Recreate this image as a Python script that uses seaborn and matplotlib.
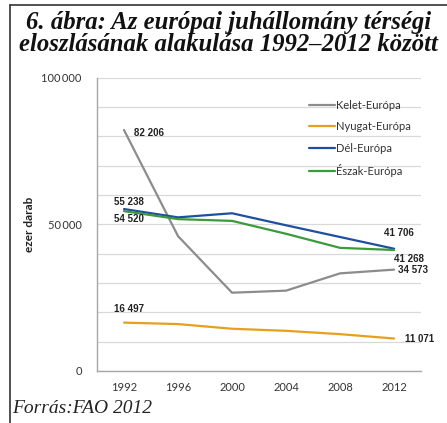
import pandas as pd
import matplotlib.pyplot as plt
import seaborn as sns
from matplotlib.lines import Line2D
from matplotlib.ticker import FuncFormatter

# --- Adatok (ezer darab) ---
years = [1992, 1996, 2000, 2004, 2008, 2012]
kelet = [82206, 46000, 26700, 27400, 33300, 34573]
nyugat = [16497, 16000, 14400, 13700, 12560, 11071]
del_eu = [55238, 52400, 53800, 49700, 45700, 41706]
eszak = [54520, 51800, 51200, 46800, 42000, 41268]

regions = ["Kelet-Európa", "Nyugat-Európa", "Dél-Európa", "Észak-Európa"]
colors = ["#8c8c8c", "#e5a11c", "#1f4fa0", "#3b9a3b"]

frames = []
for name, vals in zip(regions, [kelet, nyugat, del_eu, eszak]):
    frames.append(pd.DataFrame({"year": years, "value": vals, "region": name}))
data = pd.concat(frames, ignore_index=True)

sns.set_theme(style="white")
plt.rcParams['font.family'] = ['Lato', 'DejaVu Sans']

fig = plt.figure(figsize=(4.47, 4.23), dpi=100)
ax = fig.add_axes([0.217, 0.123, 0.725, 0.693])

sns.lineplot(data=data, x="year", y="value", hue="region", hue_order=regions,
             palette=colors, linewidth=1.6, ax=ax, legend=False)

ax.set_xlim(1990, 2014)
ax.set_ylim(0, 100000)
ax.set_xticks(years)
ax.set_yticks([0, 50000, 100000])
ax.set_yticks(range(0, 100001, 10000), minor=True)
ax.yaxis.set_major_formatter(FuncFormatter(lambda v, p: f"{int(v):,}".replace(",", "\u2009") if v else "0"))
ax.grid(axis="y", which="both", color="#d9d9d9", linewidth=0.9)
ax.tick_params(axis="both", labelsize=8, colors="#333333", length=0, pad=8)
ax.tick_params(axis="y", pad=11)
ax.tick_params(axis="y", which="minor", length=0)
for s in ["top", "right"]:
    ax.spines[s].set_visible(False)
for s in ["left", "bottom"]:
    ax.spines[s].set_color("#a6a6a6")
    ax.spines[s].set_linewidth(1.0)
ax.set_xlabel("")
ax.set_ylabel("ezer darab", fontsize=8.5, fontweight="bold", color="#222222")
ax.yaxis.set_label_coords(-0.19, 0.5)

# Adatfeliratok
def fmt(v):
    return f"{v:,}".replace(",", " ")

lab = dict(fontsize=7, fontweight="bold", color="#222222", family=["Liberation Sans", "DejaVu Sans"])
ax.annotate(fmt(kelet[0]), (years[0], kelet[0]), xytext=(7, -2), textcoords="offset points", va="center", **lab)
ax.annotate(fmt(del_eu[0]), (years[0], del_eu[0]), xytext=(-7, 5), textcoords="offset points", va="center", **lab)
ax.annotate(fmt(eszak[0]), (years[0], eszak[0]), xytext=(-7, -6), textcoords="offset points", va="center", **lab)
ax.annotate(fmt(nyugat[0]), (years[0], nyugat[0]), xytext=(-7, 10), textcoords="offset points", va="center", **lab)
ax.annotate(fmt(del_eu[-1]), (years[-1], del_eu[-1]), xytext=(-7, 11), textcoords="offset points", va="center", **lab)
ax.annotate(fmt(eszak[-1]), (years[-1], eszak[-1]), xytext=(0, -6.5), textcoords="offset points", va="center", **lab)
ax.annotate(fmt(kelet[-1]), (years[-1], kelet[-1]), xytext=(3, 0), textcoords="offset points", va="center", **lab)
ax.annotate(fmt(nyugat[-1]), (years[-1], nyugat[-1]), xytext=(8, 0), textcoords="offset points", va="center", **lab)

# Jelmagyarázat
handles = [Line2D([0], [0], color=c, linewidth=1.6) for c in colors]
fig.legend(handles, regions, loc="upper left", bbox_to_anchor=(0.668, 0.788),
           frameon=False, fontsize=8, handlelength=2.4, handletextpad=0.1,
           labelspacing=0.95, labelcolor="#333333")

# Cím és forrás
fig.text(0.512, 0.975, "6. ábra: Az európai juhállomány térségi\neloszlásának alakulása 1992–2012 között",
         ha="center", va="top", fontsize=17.8, fontweight="bold", style="italic",
         family=["Liberation Serif"], linespacing=0.98, color="#111111")
fig.text(0.027, 0.035, "Forrás:FAO 2012", ha="left", va="center", fontsize=14,
         style="italic", family=["Liberation Serif"], color="#222222")

# Keret
fig.add_artist(Line2D([0.023, 0.023], [0, 0.988], color="#333333", linewidth=1.2, transform=fig.transFigure))
fig.add_artist(Line2D([0.023, 1], [0.988, 0.988], color="#333333", linewidth=1.2, transform=fig.transFigure))

plt.savefig("out.png", dpi=100)
plt.close()
